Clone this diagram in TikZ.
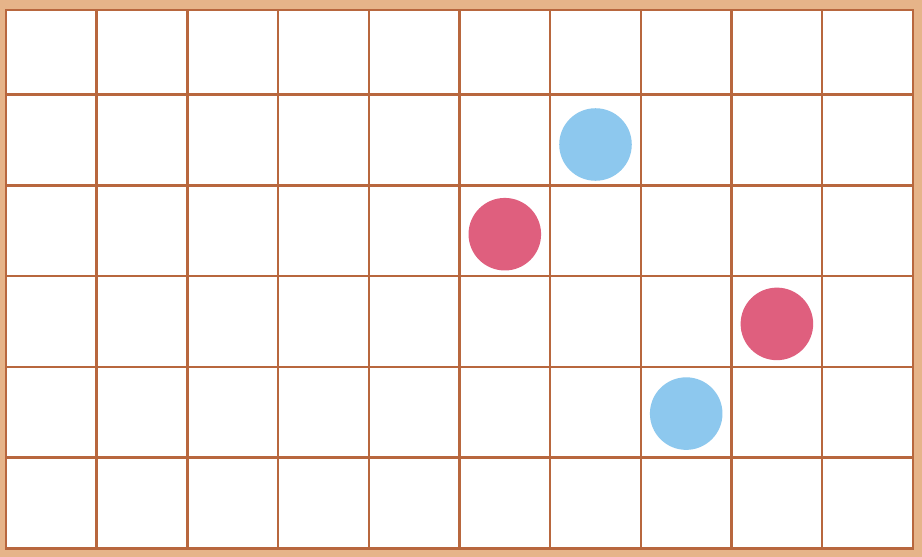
\documentclass[tikz,border=0pt]{standalone}
\usepackage{xcolor}
\usepackage{tikz}
\usetikzlibrary{positioning, backgrounds}
\definecolor{paper}{HTML}{E6B489}
\definecolor{gridbrown}{HTML}{B8673E}
\definecolor{dotblue}{HTML}{8DC8EE}
\definecolor{dotred}{HTML}{DF5F7E}

\begin{document}
\begin{tikzpicture}[
  x=1cm, y=0.989cm,
  gridline/.style={draw=gridbrown, line width=0.75pt},
  dot/.style={circle, minimum size=0.8cm, inner sep=0pt},
  bluedot/.style={dot, fill=dotblue},
  reddot/.style={dot, fill=dotred}
]
\fill[paper] (-0.066,-0.098) rectangle (10.1,6.111);
\useasboundingbox (-0.066,-0.098) rectangle (10.1,6.111);
\fill[white] (0,0) rectangle (10,6);
\draw[gridline] (0,0) grid (10,6);
\draw[gridline, line width=0.9pt] (0,0) rectangle (10,6);
% dots sit in cell centres
\node[bluedot] (b1) at (6.5,4.5) {};
\node[reddot]  (r1) at (5.5,3.5) {};
\node[reddot]  (r2) at (8.5,2.5) {};
\node[bluedot] (b2) at (7.5,1.5) {};
\end{tikzpicture}
\end{document}
